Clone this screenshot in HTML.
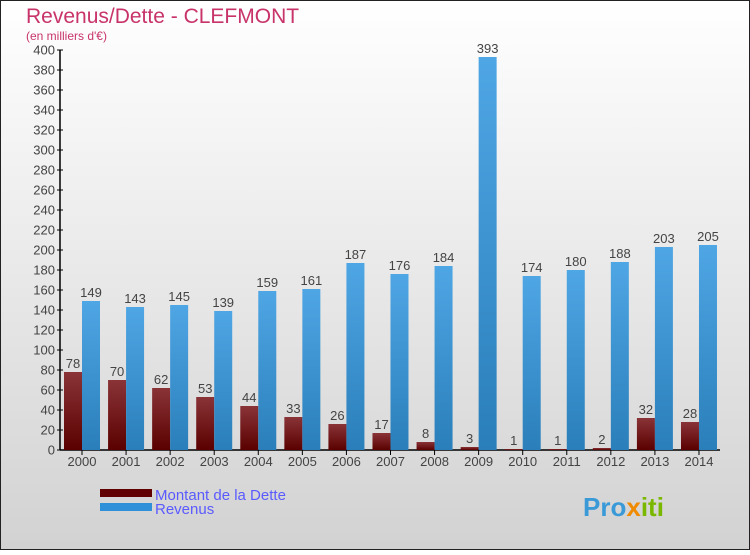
<!DOCTYPE html>
<html><head><meta charset="utf-8"><style>
body{margin:0;width:750px;height:550px;overflow:hidden;font-family:"Liberation Sans",sans-serif}
</style></head><body>
<svg width="750" height="550" xmlns="http://www.w3.org/2000/svg">
<defs>
<linearGradient id="bg" x1="0" y1="0" x2="0" y2="1"><stop offset="0" stop-color="#ffffff"/><stop offset="1" stop-color="#d2d2d2"/></linearGradient>
<linearGradient id="gd" x1="0" y1="0" x2="0" y2="1"><stop offset="0" stop-color="#8a3438"/><stop offset="1" stop-color="#5a0000"/></linearGradient>
<linearGradient id="gr" x1="0" y1="0" x2="0" y2="1"><stop offset="0" stop-color="#4fa6e4"/><stop offset="1" stop-color="#2a7fba"/></linearGradient>
</defs>
<rect x="0.5" y="0.5" width="749" height="549" fill="url(#bg)" stroke="#222"/>
<text x="26" y="23" font-size="21" fill="#c8336a">Revenus/Dette - CLEFMONT</text>
<text x="26" y="40" font-size="12" fill="#c8336a">(en milliers d'€)</text>
<g id="axes"></g>
<g id="bars"></g>
<g>
<rect x="100" y="489" width="52" height="8" fill="#600000"/>
<text x="155" y="500" font-size="15" fill="#5a5aff">Montant de la Dette</text>
<rect x="100" y="503" width="52" height="8" fill="#2e90d8"/>
<text x="155" y="514" font-size="15" fill="#5a5aff">Revenus</text>
</g>
<text x="583" y="516" font-size="26" font-weight="bold" fill="#3a9ad8">Pro<tspan fill="#f08a00">x</tspan><tspan fill="#7ab800">iti</tspan></text>
</svg>
<script>
const years=[2000,2001,2002,2003,2004,2005,2006,2007,2008,2009,2010,2011,2012,2013,2014];
const dette=[78,70,62,53,44,33,26,17,8,3,1,1,2,32,28];
const revenus=[149,143,145,139,159,161,187,176,184,393,174,180,188,203,205];
const yTicks=[0,20,40,60,80,100,120,140,160,180,200,220,240,260,280,300,320,340,360,380,400];
const NS="http://www.w3.org/2000/svg";
const y0=450,yTop=50,yMax=400;
const y=v=>y0-(v/yMax)*(y0-yTop);
const step=44.07,x0=64;
const gx=i=>x0+i*step;
function mk(t,a,p){const e=document.createElementNS(NS,t);for(const k in a)e.setAttribute(k,a[k]);p.appendChild(e);return e;}
const ax=document.getElementById('axes'),bars=document.getElementById('bars');
const yl=mk('line',{x1:60,y1:yTop,x2:60,y2:y0,stroke:'#000','stroke-width':1.5},ax);


const xl=mk('line',{x1:60,y1:y0,x2:720,y2:y0,stroke:'#000','stroke-width':1.5},ax);


yTicks.forEach(v=>{
 mk('line',{x1:57,y1:y(v),x2:63,y2:y(v),stroke:'#000'},ax);
 const t=mk('text',{x:55,y:y(v)+4.5,'font-size':13,'text-anchor':'end',fill:'#444'},ax);t.textContent=v;
 
 
});
years.forEach((yr,i)=>{
 const cx=gx(i)+18;
 mk('line',{x1:cx,y1:y0,x2:cx,y2:y0+5,stroke:'#000'},ax);
 const t=mk('text',{x:cx,y:y0+16,'font-size':13,'text-anchor':'middle',fill:'#444'},ax);t.textContent=yr;
 
 
 const b1=mk('rect',{x:gx(i),y:y(dette[i]),width:18,height:y0-y(dette[i]),fill:'url(#gd)'},bars);
 
 
 const b2=mk('rect',{x:gx(i)+18,y:y(revenus[i]),width:18,height:y0-y(revenus[i]),fill:'url(#gr)'},bars);
 
 
 const l1=mk('text',{x:gx(i)+9,y:y(dette[i])-4,'font-size':13,'text-anchor':'middle',fill:'#444'},bars);l1.textContent=dette[i];
 
 
 const l2=mk('text',{x:gx(i)+27,y:y(revenus[i])-4,'font-size':13,'text-anchor':'middle',fill:'#444'},bars);l2.textContent=revenus[i];
 
 
});
</script>
</body></html>
